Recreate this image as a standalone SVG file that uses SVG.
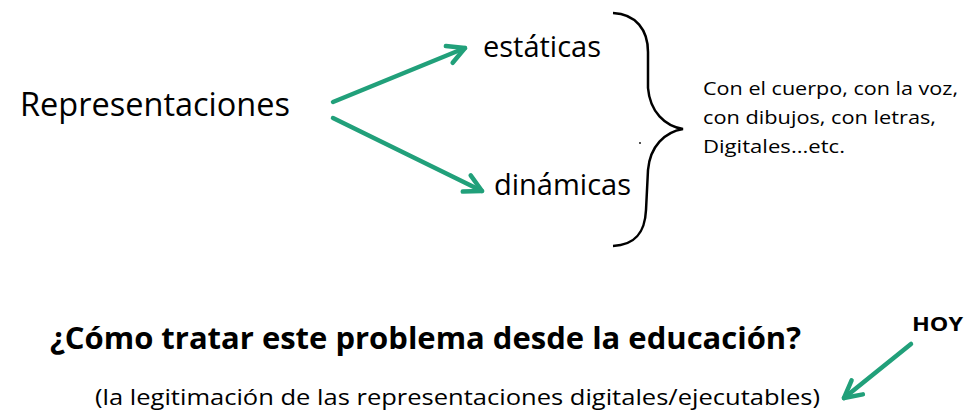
<svg xmlns="http://www.w3.org/2000/svg" width="966" height="416" viewBox="0 0 966 416">
<style>
text{font-family:"Open Sans","Liberation Sans",sans-serif;fill:#000}
.conn{stroke:#21a07a;stroke-width:4.5;fill:none;stroke-linecap:round}
.brace{stroke:#000;stroke-width:2.5;fill:none}
</style>
<defs>
<marker id="ah" markerUnits="userSpaceOnUse" markerWidth="30" markerHeight="30" viewBox="-20 -15 30 30" refX="0" refY="0" orient="auto">
<path d="M-17,-9 L0,0 L-17,9" fill="none" stroke="#21a07a" stroke-width="4.5" stroke-linecap="round" stroke-linejoin="round"/>
</marker>
</defs>
<rect width="966" height="416" fill="#fff"/>
<g id="representaciones"><text x="20" y="116" font-size="32" textLength="270" lengthAdjust="spacingAndGlyphs">Representaciones</text></g>
<g id="estaticas"><text x="483" y="57" font-size="30" textLength="118" lengthAdjust="spacingAndGlyphs">estáticas</text></g>
<g id="dinamicas"><text x="494" y="195" font-size="30" textLength="137" lengthAdjust="spacingAndGlyphs">dinámicas</text></g>
<g id="brace">
<path class="brace" d="M613,13 C636,14 648,30 648,52 L648,88 C650,112 665,126 683,129 C665,132 650,146 648,170 L646,210 C645,232 636,245 613,246"/>
<circle cx="640" cy="143" r="0.9" fill="#000"/>
</g>
<g id="formas">
<text x="703" y="95" font-size="17.5" textLength="255" lengthAdjust="spacingAndGlyphs">Con el cuerpo, con la voz,</text>
<text x="703" y="124" font-size="17.5" textLength="233" lengthAdjust="spacingAndGlyphs">con dibujos, con letras,</text>
<text x="703" y="153" font-size="17.5" textLength="142" lengthAdjust="spacingAndGlyphs">Digitales...etc.</text>
</g>
<g id="pregunta"><text x="50" y="349" font-size="31" font-weight="bold" textLength="751" lengthAdjust="spacingAndGlyphs">¿Cómo tratar este problema desde la educación?</text></g>
<g id="legitimacion"><text x="95" y="405" font-size="22" textLength="725" lengthAdjust="spacingAndGlyphs">(la legitimación de las representaciones digitales/ejecutables)</text></g>
<g id="hoy"><text x="912" y="331" font-size="20" font-weight="bold" textLength="51" lengthAdjust="spacingAndGlyphs">HOY</text></g>
<g id="connectors">
<line class="conn" x1="333" y1="102" x2="465" y2="48" marker-end="url(#ah)"/>
<line class="conn" x1="333" y1="118" x2="482" y2="191" marker-end="url(#ah)"/>
<line class="conn" x1="911" y1="344" x2="844" y2="398" marker-end="url(#ah)"/>
</g>
</svg>
